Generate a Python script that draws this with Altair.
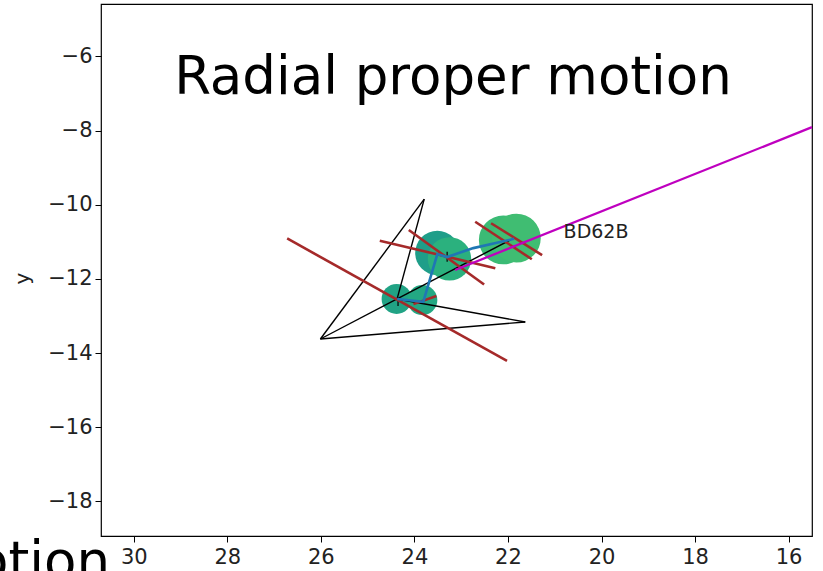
import altair as alt
import pandas as pd

# ---- data ----
circle_x = [24.38, 23.83, 23.51, 23.25, 22.10, 21.82]
circle_y = [-12.54, -12.57, -11.30, -11.46, -10.95, -10.90]
circle_size = [900, 900, 1960, 1880, 2380, 2380]
circle_group = ["s1", "s2", "m1", "m2", "b1", "b2"]
group_colors = ["#21a385", "#23a883", "#1f9e89", "#2bb17e", "#3bbb75", "#40bd72"]

# black triangle / connection segments (start x, start y, end x, end y)
black_x1 = [23.79, 23.79, 26.01, 21.63, 26.01, 24.37]
black_y1 = [-9.85, -9.85, -13.62, -13.16, -13.62, -12.54]
black_x2 = [26.01, 24.37, 21.63, 24.37, 24.37, 21.95]
black_y2 = [-13.62, -12.54, -13.16, -12.54, -12.54, -10.95]

# small vertical marks
tick_x1 = [23.30, 24.35]
tick_y1 = [-11.27, -12.55]
tick_y2 = [-11.54, -12.73]

# red (proper motion) segments
red_x1 = [26.72, 24.74, 24.12, 22.70, 22.36, 24.02]
red_y1 = [-10.91, -10.97, -10.68, -10.46, -10.50, -12.68]
red_x2 = [22.02, 22.27, 22.51, 21.49, 21.27, 23.53]
red_y2 = [-14.21, -11.71, -12.15, -11.47, -11.36, -12.46]

# blue track
blue_x = [24.37, 23.81, 23.51, 23.30, 22.74, 21.87]
blue_y = [-12.54, -12.62, -11.33, -11.41, -11.17, -10.92]

# magenta line
mag_x = [23.13, 15.50]
mag_y = [-11.76, -7.91]

label_text = ["BD62B"]
label_x = [20.81]
label_y = [-10.90]

title_text = "Radial proper motion"

x_ticks = [30, 28, 26, 24, 22, 20, 18, 16]
y_ticks = [-6, -8, -10, -12, -14, -16, -18]

FONT = "DejaVu Sans"
TXT = "#222222"

xscale = alt.Scale(domain=[15.50, 30.70], reverse=True, nice=False, zero=False)
yscale = alt.Scale(domain=[-18.93, -4.59], nice=False, zero=False)

xaxis = alt.Axis(values=x_ticks, title=None, grid=False, domain=False,
                 ticks=True, tickSize=6, tickColor="black", tickWidth=1,
                 labelFont=FONT, labelFontSize=21, labelColor=TXT,
                 labelPadding=4, format="d")
yaxis = alt.Axis(values=y_ticks, title="y", grid=False, domain=False,
                 ticks=True, tickSize=6, tickColor="black", tickWidth=1,
                 labelFont=FONT, labelFontSize=21, labelColor=TXT,
                 labelPadding=3, format="d",
                 titleFont=FONT, titleFontSize=20, titleFontWeight="normal",
                 titleColor=TXT, titleX=-79, titleY=274, titleAngle=270,
                 titleAlign="center", titleBaseline="middle")


def X(field):
    return alt.X(field, type="quantitative", scale=xscale, axis=xaxis)


def Y(field):
    return alt.Y(field, type="quantitative", scale=yscale, axis=yaxis)


pts = pd.DataFrame({"x": circle_x, "y": circle_y, "s": circle_size, "g": circle_group})
circles = alt.Chart(pts).mark_circle(opacity=1).encode(
    x=X("x"), y=Y("y"),
    size=alt.Size("s:Q", scale=None, legend=None),
    color=alt.Color("g:N", scale=alt.Scale(domain=circle_group, range=group_colors), legend=None),
)

blk = pd.DataFrame({"x1": black_x1, "y1": black_y1, "x2": black_x2, "y2": black_y2})
black = alt.Chart(blk).mark_rule(color="black", strokeWidth=1.4).encode(
    x=X("x1"), y=Y("y1"), x2="x2", y2="y2")

tk = pd.DataFrame({"x1": tick_x1, "y1": tick_y1, "y2": tick_y2})
ticks = alt.Chart(tk).mark_rule(color="black", strokeWidth=1.2).encode(
    x=X("x1"), y=Y("y1"), y2="y2")

rd = pd.DataFrame({"x1": red_x1, "y1": red_y1, "x2": red_x2, "y2": red_y2})
red = alt.Chart(rd).mark_rule(color="#a52a2a", strokeWidth=2.6).encode(
    x=X("x1"), y=Y("y1"), x2="x2", y2="y2")

bl = pd.DataFrame({"x": blue_x, "y": blue_y, "o": list(range(len(blue_x)))})
blue = alt.Chart(bl).mark_line(color="#1f77b4", strokeWidth=2.6).encode(
    x=X("x"), y=Y("y"), order="o:Q")

mg = pd.DataFrame({"x": mag_x, "y": mag_y, "o": [0, 1]})
magenta = alt.Chart(mg).mark_line(color="#bf00bf", strokeWidth=2.3).encode(
    x=X("x"), y=Y("y"), order="o:Q")

lb = pd.DataFrame({"x": label_x, "y": label_y, "t": label_text})
label = alt.Chart(lb).mark_text(align="left", baseline="alphabetic", font=FONT,
                                fontSize=19, color=TXT).encode(
    x=X("x"), y=Y("y"), text="t:N")

tt = pd.DataFrame({"t": [title_text]})
title = alt.Chart(tt).mark_text(align="center", baseline="alphabetic", font=FONT,
                                fontSize=53, color="black").encode(
    x=alt.value(352), y=alt.value(90), text="t:N")
title2 = alt.Chart(tt).mark_text(align="right", baseline="alphabetic", font=FONT,
                                 fontSize=53, color="black").encode(
    x=alt.value(9), y=alt.value(575), text="t:N")

chart = alt.layer(circles, black, ticks, red, blue, magenta, label, title, title2).properties(
    width=711, height=532,
    autosize=alt.AutoSizeParams(type="none"),
    padding={"left": 101, "top": 4, "right": 11, "bottom": 35},
).configure(
    background="white",
    view=alt.ViewConfig(stroke="black", strokeWidth=1.2),
)

chart.save("out.html", embed_options={"renderer": "svg", "actions": False})
